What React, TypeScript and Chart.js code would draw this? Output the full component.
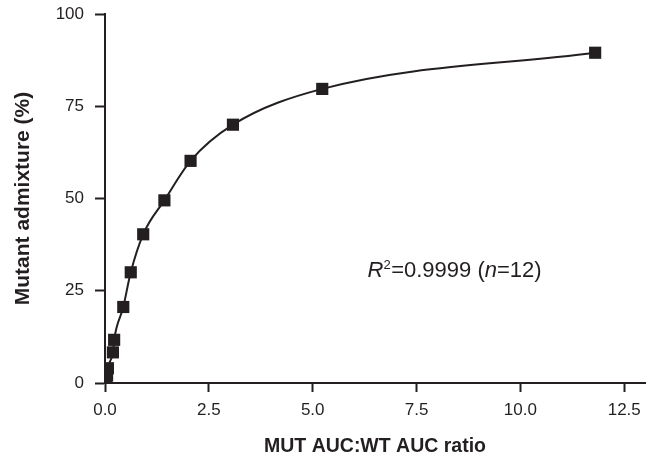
import React, { useEffect, useRef } from "react";
import { Chart, registerables } from "chart.js";

Chart.register(...registerables);

const ratioValues = [0.02, 0.05, 0.07, 0.19, 0.22, 0.44, 0.62, 0.92, 1.43, 2.06, 3.08, 5.23, 11.8];
const admixtureValues = [0, 2, 4, 8.3, 11.7, 20.6, 30.0, 40.3, 49.5, 60.2, 70.0, 79.7, 89.5];
const xTickStep = 2.5;
const yTickStep = 25;
const xTitle = "MUT AUC:WT AUC ratio";
const yTitle = "Mutant admixture (%)";
const annotationParts = [
  { text: "R", italic: true, sup: false },
  { text: "2", italic: false, sup: true },
  { text: "=0.9999 (", italic: false, sup: false },
  { text: "n", italic: true, sup: false },
  { text: "=12)", italic: false, sup: false },
];
const annotationAt = { x: 6.32, y: 28.8 };

const INK = "#231f20";
const FAMILY = "'Liberation Sans', Arial, Helvetica, sans-serif";

const annotationPlugin = {
  id: "r2note",
  afterDraw(chart: any) {
    const ctx = chart.ctx;
    const xs = chart.scales.x;
    const ys = chart.scales.y;
    let px = xs.getPixelForValue(annotationAt.x);
    const py = ys.getPixelForValue(annotationAt.y);
    ctx.save();
    ctx.fillStyle = INK;
    ctx.textBaseline = "alphabetic";
    ctx.textAlign = "left";
    for (const p of annotationParts) {
      const size = p.sup ? 13 : 22;
      ctx.font = `${p.italic ? "italic " : ""}${size}px ${FAMILY}`;
      const y = p.sup ? py - 8 : py;
      ctx.fillText(p.text, px, y);
      px += ctx.measureText(p.text).width + (p.sup ? 0.5 : 0);
    }
    ctx.restore();
  },
};

export default function App() {
  const ref = useRef<HTMLCanvasElement | null>(null);
  useEffect(() => {
    if (!ref.current) return;
    const points = ratioValues.map((x, i) => ({ x, y: admixtureValues[i] }));
    const chart = new Chart(ref.current, {
      type: "scatter",
      data: {
        datasets: [
          {
            data: points,
            showLine: true,
            borderColor: INK,
            borderWidth: 2,
            backgroundColor: INK,
            pointStyle: "rect",
            pointRadius: 8.6,
            pointBorderWidth: 0,
            pointBackgroundColor: INK,
            cubicInterpolationMode: "monotone",
          } as any,
        ],
      },
      options: {
        responsive: false,
        animation: false,
        devicePixelRatio: 1,
        layout: { padding: { top: 14, right: 10, left: 0, bottom: 0 } },
        plugins: { legend: { display: false }, tooltip: { enabled: false } },
        scales: {
          x: {
            type: "linear",
            min: 0,
            max: 13,
            afterFit: (s: any) => {
              s.height = 77;
              s.paddingLeft = 0;
              s.paddingRight = 0;
            },
            border: { color: INK, width: 2 },
            grid: { drawOnChartArea: false, drawTicks: true, tickLength: 9, tickWidth: 2, tickColor: INK },
            ticks: {
              stepSize: xTickStep,
              includeBounds: false,
              padding: 8,
              color: INK,
              font: { family: FAMILY, size: 17 },
              maxRotation: 0,
              callback: (v: any) => Number(v).toFixed(1),
            },
            title: {
              display: true,
              text: xTitle,
              color: INK,
              font: { family: FAMILY, size: 19.5, weight: "bold" },
              padding: { top: 0, bottom: 2 },
            },
          },
          y: {
            type: "linear",
            min: 0,
            max: 100,
            afterFit: (s: any) => {
              s.width = 105;
              s.paddingTop = 0;
              s.paddingBottom = 0;
            },
            border: { color: INK, width: 2 },
            grid: { drawOnChartArea: false, drawTicks: true, tickLength: 10, tickWidth: 2, tickColor: INK },
            ticks: {
              stepSize: yTickStep,
              padding: 11,
              color: INK,
              font: { family: FAMILY, size: 17 },
            },
            title: {
              display: true,
              text: yTitle,
              color: INK,
              font: { family: FAMILY, size: 21, weight: "bold" },
              padding: { top: 11, bottom: 0 },
            },
          },
        },
      },
      plugins: [annotationPlugin],
    });
    return () => chart.destroy();
  }, []);
  return (
    <div style={{ position: "absolute", left: 0, top: 0, width: 655, height: 460, background: "#fff" }}>
      <canvas ref={ref} width={655} height={460} />
    </div>
  );
}
